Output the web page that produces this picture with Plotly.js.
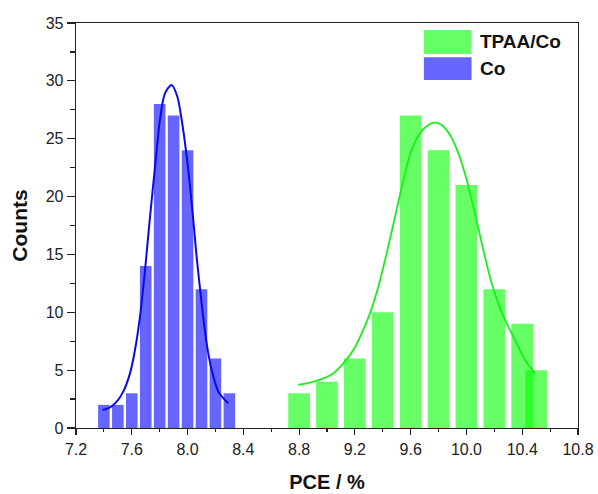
<!DOCTYPE html>
<html>
<head>
<meta charset="utf-8">
<script src="https://cdn.plot.ly/plotly-3.0.1.min.js"></script>
<style>html,body{margin:0;padding:0;background:#fff;}#chart{width:598px;height:494px;}</style>
</head>
<body>
<div id="chart"></div>
<script>
// Histogram bins (PCE %) and counts
const coBinCenters = [7.4, 7.5, 7.6, 7.7, 7.8, 7.9, 8.0, 8.1, 8.2, 8.3];
const coCounts     = [2, 2, 3, 14, 28, 27, 24, 12, 6, 3];
const tpaaBinCenters = [8.8, 9.0, 9.2, 9.4, 9.6, 9.8, 10.0, 10.2, 10.4, 10.5];
const tpaaCounts     = [3, 4, 6, 10, 27, 24, 21, 12, 9, 5];

// Fitted curves
const coFitX = [7.391, 7.444, 7.492, 7.539, 7.587, 7.623, 7.659, 7.695, 7.731, 7.767, 7.802, 7.838, 7.886, 7.927, 7.958, 7.994, 8.030, 8.065, 8.101, 8.137, 8.173, 8.221, 8.292];
const coFitY = [1.56, 1.79, 2.28, 3.14, 4.72, 6.74, 9.62, 13.65, 18.26, 22.59, 26.62, 28.92, 29.64, 28.63, 26.62, 23.45, 19.42, 14.81, 10.77, 7.32, 5.01, 3.14, 2.13];
const tpaaFitX = [8.794, 8.878, 8.974, 9.045, 9.117, 9.189, 9.249, 9.308, 9.368, 9.428, 9.488, 9.548, 9.607, 9.667, 9.727, 9.775, 9.822, 9.882, 9.942, 10.002, 10.061, 10.121, 10.181, 10.241, 10.300, 10.360, 10.420, 10.492];
const tpaaFitY = [3.72, 3.92, 4.29, 4.72, 5.59, 6.74, 8.18, 9.91, 12.21, 15.10, 18.26, 21.43, 24.03, 25.47, 26.19, 26.39, 26.19, 25.32, 23.74, 21.43, 18.55, 15.38, 12.50, 10.34, 8.76, 7.32, 5.88, 4.72];

// Axis tick labels
const xTickVals = [7.2, 7.6, 8.0, 8.4, 8.8, 9.2, 9.6, 10.0, 10.4, 10.8];
const xTickText = ['7.2', '7.6', '8.0', '8.4', '8.8', '9.2', '9.6', '10.0', '10.4', '10.8'];
const yTickVals = [0, 5, 10, 15, 20, 25, 30, 35];

const seriesNames = ['TPAA/Co', 'Co'];

const traces = [
  {
    type: 'bar', name: seriesNames[1],
    x: coBinCenters, y: coCounts,
    width: coBinCenters.map(() => 0.083),
    marker: {color: 'rgba(0,0,255,0.6)', line: {width: 0}},
    showlegend: false, hoverinfo: 'x+y'
  },
  {
    type: 'bar', name: seriesNames[0],
    x: tpaaBinCenters, y: tpaaCounts,
    width: tpaaBinCenters.map(() => 0.156),
    marker: {color: 'rgba(0,255,0,0.6)', line: {width: 0}},
    showlegend: false, hoverinfo: 'x+y'
  },
  {
    type: 'scatter', mode: 'lines', name: seriesNames[1] + ' fit',
    x: coFitX, y: coFitY, line: {color: '#0a0ae6', width: 2, shape: 'spline', smoothing: 0.8},
    showlegend: false
  },
  {
    type: 'scatter', mode: 'lines', name: seriesNames[0] + ' fit',
    x: tpaaFitX, y: tpaaFitY, line: {color: '#1aee1a', width: 1.8, shape: 'spline', smoothing: 0.8},
    showlegend: false
  }
];

const fontFam = 'Liberation Sans, Arial, sans-serif';

const layout = {
  width: 598, height: 494,
  margin: {l: 76, r: 20, t: 23, b: 66},
  paper_bgcolor: '#fff', plot_bgcolor: '#fff',
  barmode: 'overlay',
  showlegend: false,
  font: {family: fontFam, color: '#111', size: 16},
  xaxis: {
    range: [7.2, 10.8], tickvals: xTickVals, ticktext: xTickText,
    ticks: 'outside', ticklen: 6, tickwidth: 1.2, tickcolor: '#222',
    minor: {dtick: 0.2, tick0: 7.2, ticks: 'outside', ticklen: 3, tickwidth: 1.2, tickcolor: '#222'},
    showline: true, linecolor: '#222', linewidth: 1.3, mirror: true,
    showgrid: false, zeroline: false,
    tickfont: {size: 16, family: fontFam, color: '#222'},
    title: {text: '<b>PCE / %</b>', font: {size: 20, family: fontFam, color: '#111'}, standoff: 18}
  },
  yaxis: {
    range: [0, 35], tickvals: yTickVals,
    ticks: 'outside', ticklen: 8, tickwidth: 1.2, tickcolor: '#222',
    minor: {dtick: 2.5, ticks: 'outside', ticklen: 5, tickwidth: 1.2, tickcolor: '#222'},
    showline: true, linecolor: '#222', linewidth: 1.3, mirror: true,
    showgrid: false, zeroline: false,
    tickfont: {size: 16, family: fontFam, color: '#222'},
    title: {text: '<b>Counts</b>', font: {size: 21, family: fontFam, color: '#111'}, standoff: 12}
  },
  shapes: [
    {type: 'rect', xref: 'paper', yref: 'paper', x0: 0.693, x1: 0.788, y0: 0.9235, y1: 0.9827,
     fillcolor: 'rgba(0,255,0,0.6)', line: {width: 0}},
    {type: 'rect', xref: 'paper', yref: 'paper', x0: 0.693, x1: 0.788, y0: 0.8593, y1: 0.9153,
     fillcolor: 'rgba(0,0,255,0.6)', line: {width: 0}}
  ],
  annotations: [
    {xref: 'paper', yref: 'paper', x: 0.801, y: 0.9531, xanchor: 'left', yanchor: 'middle',
     text: '<b>' + seriesNames[0] + '</b>', showarrow: false, font: {size: 19, family: fontFam, color: '#111'}},
    {xref: 'paper', yref: 'paper', x: 0.801, y: 0.8873, xanchor: 'left', yanchor: 'middle',
     text: '<b>' + seriesNames[1] + '</b>', showarrow: false, font: {size: 19, family: fontFam, color: '#111'}}
  ]
};

Plotly.newPlot('chart', traces, layout, {displayModeBar: false, staticPlot: true});
</script>
</body>
</html>
